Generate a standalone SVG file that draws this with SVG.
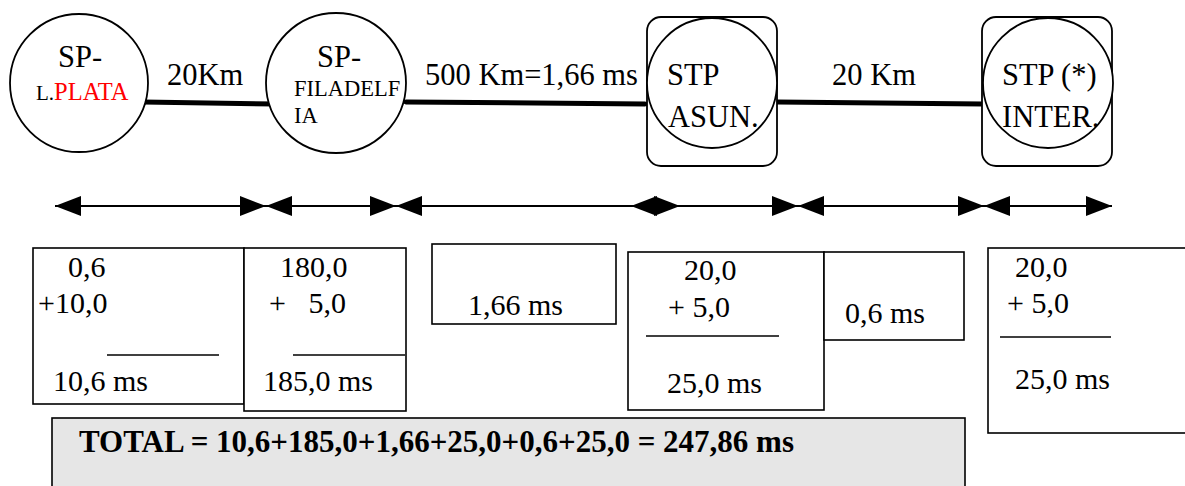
<svg xmlns="http://www.w3.org/2000/svg" width="1185" height="486" viewBox="0 0 1185 486">
<style>
text{font-family:"Liberation Serif","Times New Roman",serif;fill:#000}
.t{font-size:30px}
.h{font-size:30.5px}
.s{font-size:22.5px}
.node{fill:#fff;stroke:#000;stroke-width:1.8}
.frame{fill:#fff;stroke:#000;stroke-width:1.8}
.link{stroke:#000;stroke-width:5;stroke-linecap:round;fill:none}
.dim{stroke:#000;stroke-width:2;fill:none}
.box{fill:#fff;stroke:#000;stroke-width:1.6}
.rule{stroke:#000;stroke-width:1.6}
.total{fill:#e6e6e6;stroke:#000;stroke-width:1.6}
.b{font-size:31px;font-weight:bold}
</style>
<defs>
<marker id="ah" viewBox="0 0 26 20" refX="26" refY="10" markerWidth="26" markerHeight="20" markerUnits="userSpaceOnUse" orient="auto-start-reverse">
<path d="M0,0 L26,10 L0,20 Z" fill="#000"/>
</marker>
</defs>

<g id="connectors">
<line class="link" x1="143" y1="102" x2="275" y2="104"/>
<line class="link" x1="406" y1="102" x2="645" y2="104"/>
<line class="link" x1="777" y1="102" x2="983" y2="104"/>
</g>

<g id="node-lplata">
<circle class="node" cx="79" cy="83" r="69"/>
<text class="h" x="80" y="67" text-anchor="middle">SP-</text>
<text x="36" y="100"><tspan font-size="21">L.</tspan><tspan font-size="24.5" style="fill:#ff0000">PLATA</tspan></text>
</g>

<g id="node-filadelfia">
<circle class="node" cx="336" cy="83" r="70"/>
<text class="h" x="317" y="67">SP-</text>
<text class="s" x="294" y="96">FILADELF</text>
<text class="s" x="294" y="123">IA</text>
</g>

<g id="node-asun">
<rect class="frame" x="647" y="17" width="130" height="149" rx="14"/>
<circle class="node" cx="712" cy="83" r="65"/>
<text class="h" x="667" y="85">STP</text>
<text class="h" x="668" y="127">ASUN.</text>
</g>

<g id="node-inter">
<rect class="frame" x="982" y="17" width="130" height="149" rx="14"/>
<circle class="node" cx="1048" cy="83" r="65"/>
<text class="h" x="1002" y="85">STP (*)</text>
<text class="h" x="1002" y="127">INTER.</text>
</g>

<g id="link-labels">
<text class="h" x="167" y="85">20Km</text>
<text class="h" x="425" y="85">500 Km=1,66 ms</text>
<text class="h" x="832" y="85">20 Km</text>
</g>

<g id="measures">
<line class="dim" x1="55" y1="206" x2="266" y2="206" marker-start="url(#ah)" marker-end="url(#ah)"/>
<line class="dim" x1="266" y1="206" x2="396" y2="206" marker-start="url(#ah)" marker-end="url(#ah)"/>
<line class="dim" x1="396" y1="206" x2="680" y2="206" marker-start="url(#ah)" marker-end="url(#ah)"/>
<line class="dim" x1="631" y1="206" x2="798" y2="206" marker-start="url(#ah)" marker-end="url(#ah)"/>
<line class="dim" x1="798" y1="206" x2="984" y2="206" marker-start="url(#ah)" marker-end="url(#ah)"/>
<line class="dim" x1="984" y1="206" x2="1112" y2="206" marker-start="url(#ah)" marker-end="url(#ah)"/>
</g>

<g id="box-lplata">
<rect class="box" x="33" y="248" width="211" height="156"/>
<text class="t" x="68" y="277">0,6</text>
<text class="t" x="38" y="313">+10,0</text>
<line class="rule" x1="107" y1="355" x2="219" y2="355"/>
<text class="t" x="53" y="391">10,6 ms</text>
</g>

<g id="box-filadelfia">
<rect class="box" x="244" y="248" width="162" height="163"/>
<text class="t" x="280" y="277">180,0</text>
<text class="t" x="269" y="313" xml:space="preserve">+   5,0</text>
<line class="rule" x1="293" y1="355" x2="405" y2="355"/>
<text class="t" x="263" y="391">185,0 ms</text>
</g>

<g id="box-link">
<rect class="box" x="432" y="244" width="184" height="80"/>
<text class="t" x="468" y="315">1,66 ms</text>
</g>

<g id="box-asun">
<rect class="box" x="628" y="252" width="196" height="158"/>
<text class="t" x="684" y="280">20,0</text>
<text class="t" x="668" y="317">+ 5,0</text>
<line class="rule" x1="646" y1="336" x2="779" y2="336"/>
<text class="t" x="667" y="393">25,0 ms</text>
</g>

<g id="box-link2">
<rect class="box" x="824" y="252" width="140" height="88"/>
<text class="t" x="845" y="323">0,6 ms</text>
</g>

<g id="box-inter">
<rect class="box" x="988" y="248" width="230" height="185"/>
<text class="t" x="1015" y="277">20,0</text>
<text class="t" x="1007" y="313">+ 5,0</text>
<line class="rule" x1="1000" y1="337" x2="1111" y2="337"/>
<text class="t" x="1015" y="389">25,0 ms</text>
</g>

<g id="total">
<rect class="total" x="52" y="418" width="913" height="90"/>
<text class="b" x="79" y="452">TOTAL = 10,6+185,0+1,66+25,0+0,6+25,0 = 247,86 ms</text>
</g>
</svg>
